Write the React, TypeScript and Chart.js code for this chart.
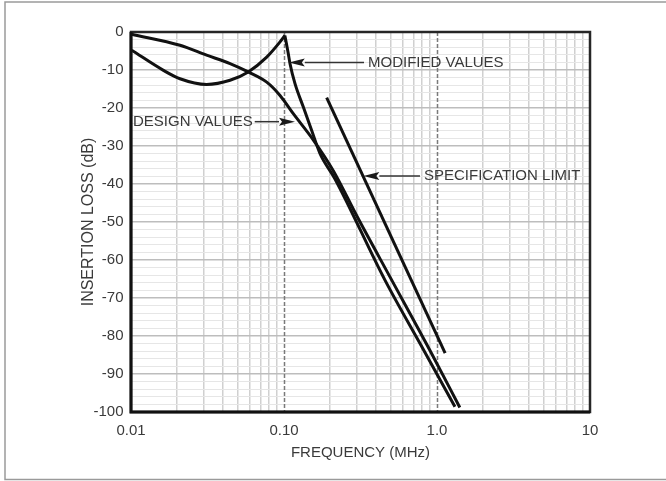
import { useEffect, useRef } from 'react';
import { Chart, registerables } from 'chart.js';

Chart.register(...registerables);

// ---- Data ----
const designFreq = [0.0101, 0.0209, 0.0312, 0.0444, 0.0584, 0.0771, 0.0942, 0.115, 0.156, 0.21, 0.3, 0.506, 0.9, 1.41];
const designLoss = [-0.6, -3.5, -6.1, -8.3, -10.5, -13.2, -16.7, -21.5, -28.5, -36.5, -48.5, -65.3, -83.8, -98.8];

const modifiedFreq = [0.0101, 0.0163, 0.0209, 0.0312, 0.0444, 0.0584, 0.0771, 0.0942, 0.1013, 0.1067, 0.1094, 0.118, 0.1336, 0.1517, 0.172, 0.215, 0.457, 0.821, 1.31];
const modifiedLoss = [-4.8, -10.1, -12.3, -13.8, -12.7, -10.5, -6.6, -2.6, -0.9, -5.7, -8.3, -13.6, -19.7, -25.9, -32, -38.6, -65.3, -83.8, -98.6];

const specFreq = [0.19, 1.13];
const specLoss = [-17.3, -84.5];

const xMajorTicks = [0.01, 0.1, 1, 10];
const xTickLabels = ['0.01', '0.10', '1.0', '10'];
const dashedDecades = [0.1, 1];

const yMin = -100;
const yMax = 0;

const annotations = [
  { text: 'MODIFIED VALUES', textFreq: 0.354, tipFreq: 0.1075, loss: -8.0 },
  { text: 'DESIGN VALUES', textFreq: 0.0103, tipFreq: 0.118, loss: -23.6 },
  { text: 'SPECIFICATION LIMIT', textFreq: 0.822, tipFreq: 0.33, loss: -37.9 },
];

const xTitle = 'FREQUENCY (MHz)';
const yTitle = 'INSERTION LOSS (dB)';

const FONT = '"Liberation Sans", Arial, Helvetica, sans-serif';
const TEXT_COLOR = '#3a3a3a';

function toPoints(xs: number[], ys: number[]) {
  return xs.map((x, i) => ({ x, y: ys[i] }));
}

function isMajor(v: number) {
  return xMajorTicks.some((t) => Math.abs(t - v) / t < 1e-6);
}

export default function App() {
  const canvasRef = useRef<HTMLCanvasElement | null>(null);

  useEffect(() => {
    const canvas = canvasRef.current;
    if (!canvas) return;

    const peakIdx = modifiedLoss.indexOf(Math.max(...modifiedLoss));
    const modPts = toPoints(modifiedFreq, modifiedLoss);

    const xGrid: number[] = [];
    for (let d = 0; d < xMajorTicks.length - 1; d++) {
      for (let k = 1; k <= 9; k++) xGrid.push(k * xMajorTicks[d]);
    }
    xGrid.push(xMajorTicks[xMajorTicks.length - 1]);

    const decorPlugin = {
      id: 'decor',
      beforeDatasetsDraw(chart: any) {
        const { ctx, chartArea, scales } = chart;
        ctx.save();
        ctx.strokeStyle = '#7a7a7a';
        ctx.lineWidth = 1.5;
        ctx.setLineDash([4, 2]);
        for (const v of dashedDecades) {
          const x = Math.round(scales.x.getPixelForValue(v)) + 0.5;
          ctx.beginPath();
          ctx.moveTo(x, chartArea.top);
          ctx.lineTo(x, chartArea.bottom);
          ctx.stroke();
        }
        ctx.restore();
      },
      afterDatasetsDraw(chart: any) {
        const { ctx, chartArea, scales } = chart;
        const { left, top, right, bottom } = chartArea;
        ctx.save();
        // plot border
        ctx.setLineDash([]);
        ctx.strokeStyle = '#262626';
        ctx.lineWidth = 2.5;
        ctx.strokeRect(left, top, right - left, bottom - top);
        ctx.strokeStyle = '#111';
        ctx.lineWidth = 3;
        ctx.beginPath();
        ctx.moveTo(left, top);
        ctx.lineTo(left, bottom);
        ctx.lineTo(right, bottom);
        ctx.stroke();

        // annotations
        ctx.font = `15px ${FONT}`;
        ctx.textBaseline = 'middle';
        ctx.fillStyle = TEXT_COLOR;
        for (const a of annotations) {
          const tx = scales.x.getPixelForValue(a.textFreq);
          const tip = scales.x.getPixelForValue(a.tipFreq);
          const y = scales.y.getPixelForValue(a.loss);
          const w = ctx.measureText(a.text).width;
          ctx.textAlign = 'left';
          ctx.fillText(a.text, tx, y);
          const startX = tip < tx ? tx - 4 : tx + w + 2;
          const dir = tip < startX ? -1 : 1;
          const headLen = 16;
          const headHalf = 4;
          ctx.strokeStyle = '#333';
          ctx.lineWidth = 1.5;
          ctx.beginPath();
          ctx.moveTo(startX, y);
          ctx.lineTo(tip - dir * headLen, y);
          ctx.stroke();
          ctx.fillStyle = '#1a1a1a';
          ctx.beginPath();
          ctx.moveTo(tip, y);
          ctx.lineTo(tip - dir * headLen, y - headHalf);
          ctx.lineTo(tip - dir * (headLen - 3), y);
          ctx.lineTo(tip - dir * headLen, y + headHalf);
          ctx.closePath();
          ctx.fill();
          ctx.fillStyle = TEXT_COLOR;
        }

        // outer frame
        ctx.strokeStyle = '#9a9a9a';
        ctx.lineWidth = 1.5;
        ctx.beginPath();
        ctx.moveTo(chart.width, 2);
        ctx.lineTo(5, 2);
        ctx.lineTo(5, chart.height - 1.5);
        ctx.lineTo(chart.width, chart.height - 1.5);
        ctx.stroke();
        ctx.restore();
      },
    };

    const lineStyle = {
      borderColor: '#111',
      borderWidth: 3,
      pointRadius: 0,
      fill: false,
      cubicInterpolationMode: 'monotone' as const,
    };

    const chart = new Chart(canvas, {
      type: 'line',
      data: {
        datasets: [
          { ...lineStyle, label: 'Design values', data: toPoints(designFreq, designLoss) },
          { ...lineStyle, label: 'Modified values (rise)', data: modPts.slice(0, peakIdx + 1) },
          { ...lineStyle, label: 'Modified values (fall)', data: modPts.slice(peakIdx) },
          { ...lineStyle, label: 'Specification limit', data: toPoints(specFreq, specLoss), cubicInterpolationMode: 'default', tension: 0 },
        ],
      },
      options: {
        animation: false,
        responsive: false,
        events: [],
        layout: { padding: { top: 32, right: 76, left: 0, bottom: 0 } },
        plugins: { legend: { display: false }, tooltip: { enabled: false } },
        scales: {
          x: {
            type: 'logarithmic',
            min: xMajorTicks[0],
            max: xMajorTicks[xMajorTicks.length - 1],
            afterBuildTicks: (scale: any) => {
              scale.ticks = xGrid.map((v) => ({ value: v }));
            },
            afterFit: (scale: any) => {
              scale.height = 69;
            },
            border: { display: false },
            grid: {
              drawTicks: false,
              color: (c: any) => (c.tick && isMajor(c.tick.value) ? 'rgba(0,0,0,0)' : '#d0d0d0'),
              lineWidth: 1.5,
            },
            ticks: {
              autoSkip: false,
              maxRotation: 0,
              padding: 10,
              color: TEXT_COLOR,
              font: { family: FONT, size: 15 },
              callback: (value: any) => {
                const i = xMajorTicks.findIndex((t) => Math.abs(t - Number(value)) / t < 1e-6);
                return i >= 0 ? xTickLabels[i] : '';
              },
            },
            title: {
              display: true,
              text: xTitle,
              color: TEXT_COLOR,
              font: { family: FONT, size: 15 },
              padding: { top: 0, bottom: 19 },
            },
          },
          y: {
            type: 'linear',
            min: yMin,
            max: yMax,
            afterFit: (scale: any) => {
              scale.width = 131;
            },
            border: { display: false },
            grid: {
              drawTicks: false,
              color: (c: any) => (c.tick && c.tick.value % 10 === 0 ? '#bdbdbd' : '#e6e6e6'),
              lineWidth: (c: any) => (c.tick && c.tick.value % 10 === 0 ? 1.5 : 1),
            },
            ticks: {
              stepSize: 2,
              autoSkip: false,
              padding: 7.5,
              color: TEXT_COLOR,
              font: { family: FONT, size: 15 },
              callback: (value: any) => (Number(value) % 10 === 0 ? String(value) : ''),
            },
            title: {
              display: true,
              text: yTitle,
              color: TEXT_COLOR,
              font: { family: FONT, size: 16 },
              padding: { top: 79, bottom: 0 },
            },
          },
        },
      },
      plugins: [decorPlugin],
    });

    return () => chart.destroy();
  }, []);

  return (
    <div style={{ position: 'absolute', left: 0, top: 0, width: 666, height: 481, background: '#fff' }}>
      <canvas ref={canvasRef} width={666} height={481} style={{ display: 'block', width: 666, height: 481 }} />
    </div>
  );
}
